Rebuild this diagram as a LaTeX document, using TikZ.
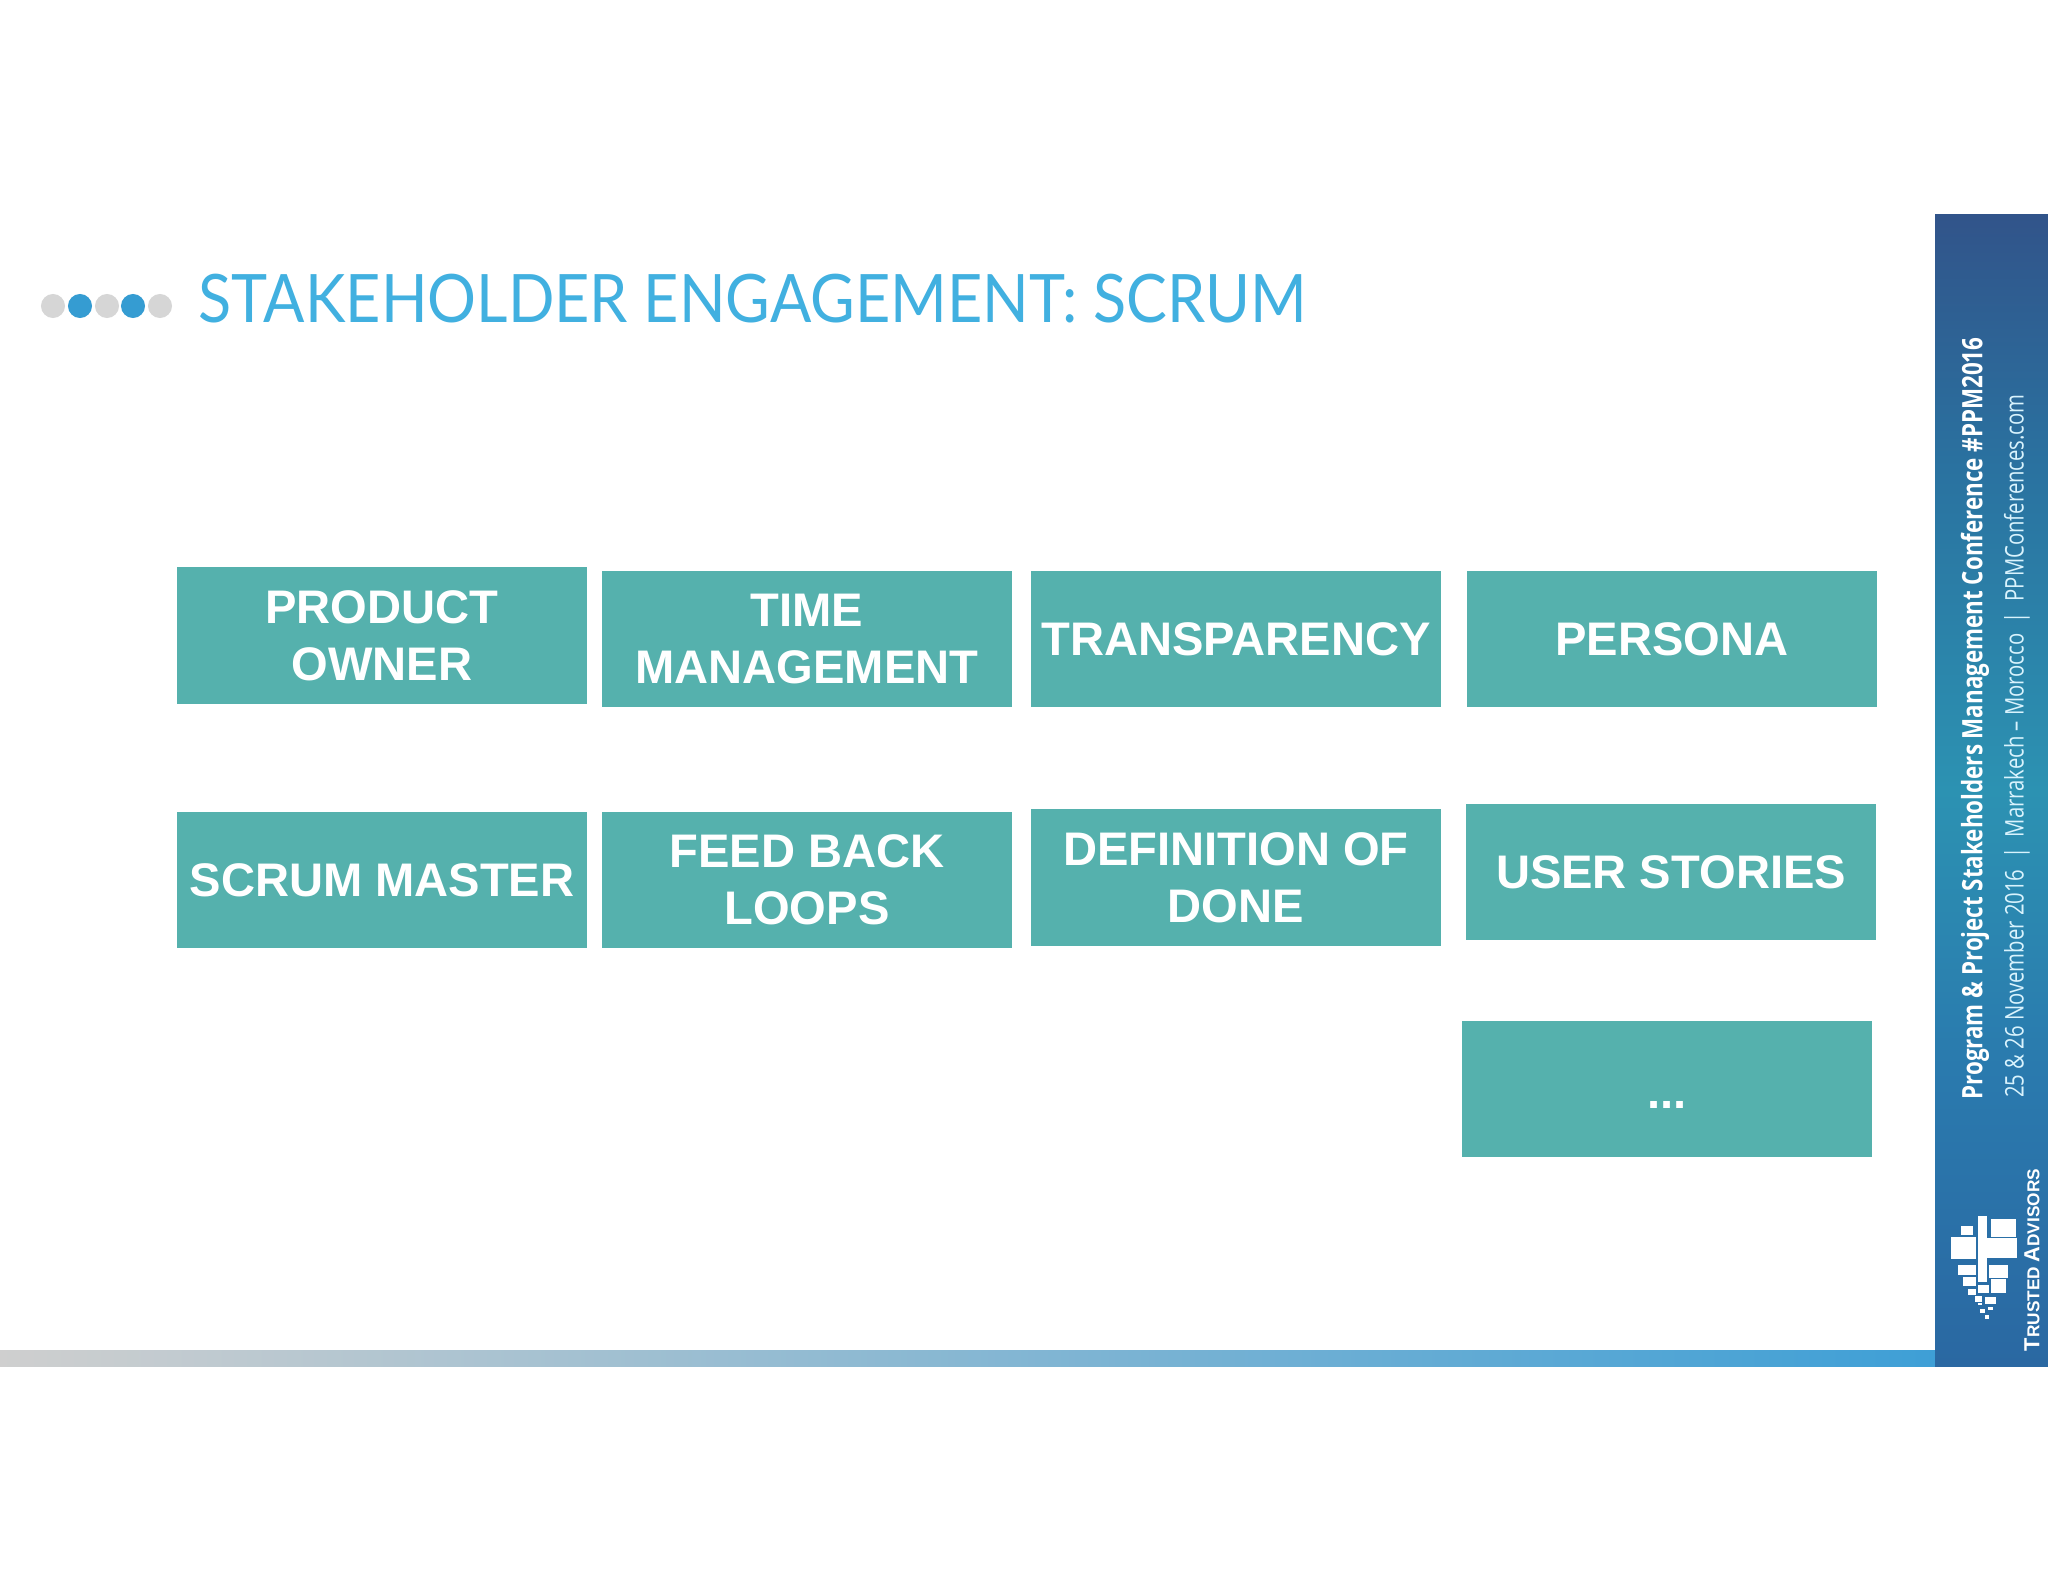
\documentclass[tikz,border=0pt]{standalone}
\usepackage{fontspec}
\setmainfont{Liberation Sans}
\newfontfamily\titlefont{Lato}
\newfontfamily\bandfont{Open Sans}
\usepackage{tikz}

\definecolor{tealbox}{HTML}{55B1AD}
\definecolor{titleblue}{HTML}{41B0E0}
\definecolor{dotblue}{HTML}{359CD2}
\definecolor{dotgrey}{HTML}{D6D6D6}
\definecolor{barblue}{HTML}{3E9FD6}
\definecolor{bargrey}{HTML}{CFCFCF}
\definecolor{bandtop}{HTML}{31548A}
\definecolor{bandupper}{HTML}{2A72A0}
\definecolor{bandmid}{HTML}{2C92B2}
\definecolor{bandlow}{HTML}{2A7AAE}
\definecolor{bandend}{HTML}{2A68A2}

\pgfdeclareverticalshading{bandshade}{100bp}{
  color(0bp)=(bandend);
  color(25bp)=(bandend);
  color(38bp)=(bandlow);
  color(50bp)=(bandmid);
  color(64bp)=(bandupper);
  color(75bp)=(bandtop);
  color(100bp)=(bandtop)}

\tikzset{
  teambox/.style={fill=tealbox,text=white,font=\bfseries\fontsize{13.4}{16.1}\selectfont,
    align=center,inner sep=0pt,minimum width=410*0.2845pt,minimum height=136*0.2845pt},
  dotnode/.style={circle,inner sep=0pt,minimum size=24*0.2845pt},
  logopart/.style={fill=white}
}

\begin{document}
\begin{tikzpicture}[x=0.01cm,y=-0.01cm]

\useasboundingbox (0,0) rectangle (2048,1582) ;
\fill[white] (0,0) rectangle (2048,1582) ;

\node[dotnode,fill=dotgrey] (dot_a) at (53,306) {} ;
\node[dotnode,fill=dotblue] (dot_b) at (80,306) {} ;
\node[dotnode,fill=dotgrey] (dot_c) at (107,306) {} ;
\node[dotnode,fill=dotblue] (dot_d) at (133,306) {} ;
\node[dotnode,fill=dotgrey] (dot_e) at (160,306) {} ;

\node[anchor=west,xscale=0.915,transform shape,inner sep=0pt,text=titleblue,font=\titlefont\fontsize{19}{19}\selectfont] (title) at (198,299) {STAKEHOLDER ENGAGEMENT: SCRUM} ;

\node[teambox] (product_owner) at (382,635.5) {PRODUCT\\OWNER} ;
\node[teambox] (time_mgmt) at (807,639) {TIME\\MANAGEMENT} ;
\node[teambox] (transparency) at (1236,639) {TRANSPARENCY} ;
\node[teambox] (persona) at (1672,639) {PERSONA} ;

\node[teambox] (scrum_master) at (382,880) {SCRUM MASTER} ;
\node[teambox] (feed_back) at (807,880) {FEED BACK\\LOOPS} ;
\node[teambox] (definition_done) at (1236,877.5) {DEFINITION OF\\DONE} ;
\node[teambox] (user_stories) at (1671,872) {USER STORIES} ;

\node[teambox] (etc_box) at (1667,1089) {\vphantom{X}\smash{\raisebox{-0.9pt}{...}}} ;

\shade[left color=bargrey,right color=barblue] (0,1350) rectangle (1935,1366) ;
\shade[shading=bandshade] (1935,215) rectangle (2048,1366) ;

\node[rotate=90,xscale=0.795,transform shape,inner sep=0pt,text=white,font=\bandfont\bfseries\fontsize{8}{8}\selectfont] (conf_name) at (1975,718.5) {Program \& Project Stakeholders Management Conference \#PPM2016} ;
\node[rotate=90,xscale=0.79,transform shape,inner sep=0pt,text=white!85!cyan,font=\bandfont\fontsize{7.3}{8}\selectfont] (conf_date) at (2017,746) {25 \& 26 November 2016 \ | \ Marrakech – Morocco \ | \ PPMConferences.com} ;
\node[rotate=90,inner sep=0pt,text=white,font=\bfseries\fontsize{4.9}{5}\selectfont] (advisors) at (2032,1260) {{\fontsize{6.2}{5}\selectfont T}RUSTED {\fontsize{6.2}{5}\selectfont A}DVISORS} ;

\fill[logopart] (1961,1226) rectangle (1973,1235) ;
\fill[logopart] (1991,1219) rectangle (2016,1237) ;
\fill[logopart] (1951,1237) rectangle (1976,1259) ;
\fill[logopart] (1978,1216) rectangle (1987,1282) ;
\fill[logopart] (1987,1238) rectangle (2017,1258) ;
\fill[logopart] (1958,1265) rectangle (1976,1275) ;
\fill[logopart] (1989,1265) rectangle (2008,1278) ;
\fill[logopart] (1963,1277) rectangle (1976,1286) ;
\fill[logopart] (1991,1279) rectangle (2006,1293) ;
\fill[logopart] (1978,1285) rectangle (1989,1293) ;
\fill[logopart] (1968,1289) rectangle (1976,1295) ;
\fill[logopart] (1975,1296) rectangle (1982,1302) ;
\fill[logopart] (1985,1297) rectangle (1996,1304) ;
\fill[logopart] (1978,1303) rectangle (1982,1305) ;
\fill[logopart] (1988,1307) rectangle (1993,1310) ;
\fill[logopart] (1980,1309) rectangle (1985,1313) ;
\fill[logopart] (1985,1315) rectangle (1989,1319) ;

\end{tikzpicture}
\end{document}
